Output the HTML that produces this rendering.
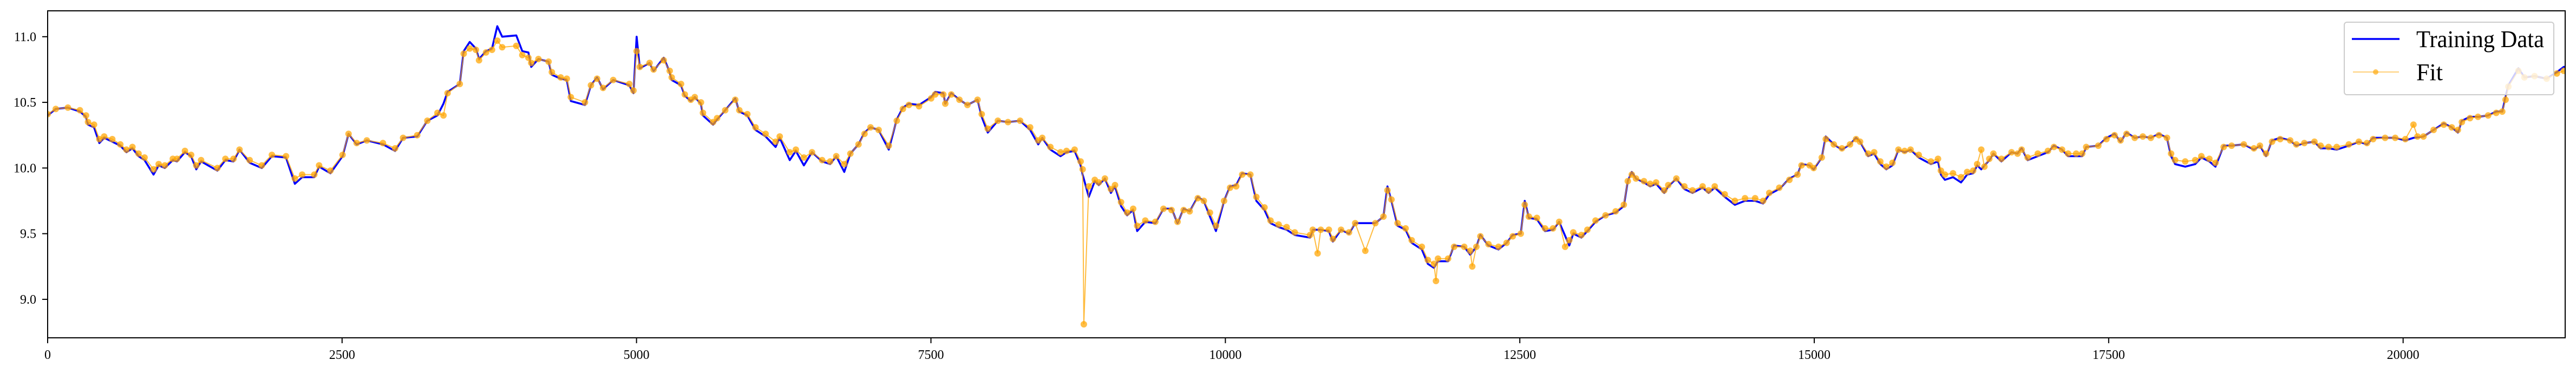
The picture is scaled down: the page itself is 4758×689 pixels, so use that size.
<!DOCTYPE html>
<html><head><meta charset="utf-8"><style>
html,body{margin:0;padding:0;background:#fff;}
svg{display:block;font-family:"Liberation Serif",serif;}
</style></head><body>
<svg id="chart" width="4758" height="689" viewBox="0 0 4758 689" xmlns="http://www.w3.org/2000/svg">
<g id="series"></g>
<g id="axes"></g>
</svg>
<script>
const xTicks=[0,2500,5000,7500,10000,12500,15000,17500,20000];
const yTicks=[9.0,9.5,10.0,10.5,11.0];
const trainX=[0,69,172,274,326,343,394,439,480,549,617,669,720,772,823,899,943,995,1063,1098,1166,1218,1262,1303,1441,1509,1578,1629,1715,1818,1904,2024,2099,2161,2264,2305,2401,2504,2555,2624,2710,2847,2950,3018,3138,3224,3310,3361,3396,3499,3533,3584,3636,3663,3722,3773,3818,3859,3979,4030,4082,4106,4167,4253,4281,4356,4408,4442,4562,4613,4665,4716,4802,4939,4974,5001,5028,5111,5145,5231,5282,5299,5378,5410,5461,5495,5547,5564,5650,5684,5753,5838,5873,5941,6010,6096,6181,6216,6301,6353,6421,6490,6576,6644,6696,6764,6816,6885,6936,6987,7056,7142,7210,7262,7313,7399,7502,7536,7605,7622,7673,7742,7810,7896,7931,7982,8068,8154,8257,8342,8411,8445,8514,8600,8651,8720,8771,8788,8840,8891,8925,8977,9028,9063,9114,9166,9217,9251,9320,9405,9474,9543,9594,9646,9697,9766,9817,9869,9920,9989,10040,10092,10143,10212,10263,10332,10383,10452,10520,10589,10719,10742,10810,10879,10913,10982,11050,11102,11188,11273,11342,11376,11410,11462,11530,11582,11668,11719,11771,11805,11891,11942,12028,12079,12131,12165,12234,12319,12388,12440,12508,12542,12577,12645,12714,12782,12834,12920,12954,13023,13074,13143,13228,13314,13383,13417,13451,13486,13554,13606,13657,13726,13760,13829,13897,13966,14052,14103,14155,14240,14326,14412,14498,14566,14618,14703,14789,14858,14892,14961,14995,15064,15098,15166,15235,15304,15355,15389,15458,15509,15561,15612,15664,15715,15767,15818,15887,15990,16051,16075,16109,16178,16246,16298,16349,16383,16418,16486,16521,16589,16675,16726,16761,16812,16898,16984,17035,17104,17155,17224,17275,17309,17412,17481,17550,17601,17652,17721,17790,17858,17927,17995,18030,18064,18150,18235,18287,18355,18407,18476,18544,18647,18733,18784,18836,18887,18956,19041,19093,19161,19247,19299,19367,19436,19539,19624,19693,19745,19847,19933,20019,20088,20173,20259,20345,20413,20465,20499,20568,20636,20722,20791,20842,20870,20894,20979,21030,21116,21219,21305,21364,21400];
const trainY=[10.40,10.45,10.46,10.43,10.39,10.33,10.31,10.19,10.23,10.20,10.17,10.12,10.15,10.09,10.06,9.95,10.02,10.00,10.06,10.05,10.12,10.09,9.99,10.05,9.98,10.06,10.05,10.14,10.04,10.00,10.09,10.08,9.88,9.93,9.93,10.01,9.96,10.09,10.26,10.18,10.21,10.18,10.13,10.23,10.24,10.36,10.40,10.49,10.58,10.64,10.89,10.96,10.91,10.83,10.89,10.91,11.08,11.00,11.01,10.89,10.88,10.77,10.83,10.81,10.71,10.68,10.67,10.51,10.48,10.63,10.69,10.60,10.67,10.63,10.57,11.00,10.76,10.80,10.74,10.84,10.73,10.67,10.63,10.55,10.51,10.54,10.49,10.40,10.33,10.37,10.44,10.53,10.43,10.40,10.29,10.24,10.16,10.23,10.06,10.13,10.02,10.12,10.05,10.03,10.09,9.97,10.11,10.18,10.27,10.31,10.29,10.14,10.37,10.46,10.49,10.48,10.54,10.58,10.57,10.49,10.57,10.52,10.48,10.52,10.39,10.27,10.36,10.35,10.36,10.29,10.18,10.23,10.14,10.09,10.12,10.13,10.02,9.95,9.78,9.90,9.87,9.92,9.81,9.86,9.71,9.64,9.68,9.52,9.59,9.58,9.69,9.69,9.58,9.69,9.67,9.78,9.75,9.63,9.52,9.75,9.86,9.87,9.96,9.95,9.75,9.68,9.58,9.55,9.53,9.49,9.47,9.53,9.53,9.52,9.44,9.53,9.50,9.58,9.58,9.58,9.63,9.86,9.75,9.56,9.53,9.43,9.38,9.27,9.24,9.29,9.29,9.41,9.40,9.34,9.40,9.49,9.41,9.38,9.43,9.49,9.50,9.75,9.62,9.61,9.52,9.53,9.59,9.41,9.50,9.47,9.52,9.59,9.64,9.66,9.71,9.90,9.97,9.92,9.89,9.86,9.88,9.81,9.86,9.92,9.84,9.81,9.85,9.81,9.85,9.78,9.72,9.75,9.75,9.73,9.80,9.84,9.92,9.95,10.03,10.02,9.99,10.08,10.24,10.18,10.14,10.18,10.23,10.20,10.09,10.11,10.03,9.99,10.02,10.14,10.12,10.14,10.08,10.03,10.05,9.95,9.91,9.93,9.89,9.95,9.96,10.02,9.99,10.06,10.11,10.05,10.12,10.11,10.15,10.06,10.09,10.12,10.17,10.14,10.09,10.09,10.09,10.16,10.17,10.23,10.26,10.20,10.27,10.23,10.24,10.23,10.26,10.23,10.09,10.03,10.01,10.03,10.08,10.05,10.01,10.17,10.17,10.18,10.14,10.17,10.09,10.21,10.23,10.21,10.17,10.19,10.20,10.15,10.15,10.14,10.17,10.20,10.18,10.23,10.23,10.23,10.21,10.23,10.24,10.29,10.34,10.31,10.27,10.36,10.39,10.39,10.40,10.43,10.43,10.54,10.63,10.76,10.69,10.70,10.68,10.73,10.77,10.77];
const fitX=[0,69,172,274,326,343,394,439,480,549,617,669,720,772,823,899,943,995,1063,1098,1166,1218,1262,1303,1441,1509,1578,1629,1715,1818,1904,2024,2099,2161,2264,2305,2401,2504,2555,2624,2710,2847,2950,3018,3138,3224,3310,3361,3396,3499,3533,3584,3636,3663,3722,3773,3818,3859,3979,4030,4082,4106,4167,4253,4281,4356,4408,4442,4562,4613,4665,4716,4802,4939,4974,5001,5028,5111,5145,5231,5282,5299,5378,5410,5461,5495,5547,5564,5650,5684,5753,5838,5873,5941,6010,6096,6181,6216,6301,6353,6421,6490,6576,6644,6696,6764,6816,6885,6936,6987,7056,7142,7210,7262,7313,7399,7502,7536,7605,7622,7673,7742,7810,7896,7931,7982,8068,8154,8257,8342,8411,8445,8514,8600,8651,8720,8771,8788,8798,8840,8891,8925,8977,9028,9063,9114,9166,9217,9251,9320,9405,9474,9543,9594,9646,9697,9766,9817,9869,9920,9989,10040,10092,10143,10212,10263,10332,10383,10452,10520,10589,10719,10742,10783,10810,10879,10913,10982,11050,11102,11188,11273,11342,11376,11410,11462,11530,11582,11668,11719,11771,11788,11805,11891,11942,12028,12079,12096,12131,12165,12234,12319,12388,12440,12508,12542,12577,12645,12714,12782,12834,12885,12920,12954,13023,13074,13143,13228,13314,13383,13417,13451,13486,13554,13606,13657,13726,13760,13829,13897,13966,14052,14103,14155,14240,14326,14412,14498,14566,14618,14703,14789,14858,14892,14961,14995,15064,15098,15166,15235,15304,15355,15389,15458,15509,15561,15612,15664,15715,15767,15818,15887,15990,16051,16075,16109,16178,16246,16298,16349,16383,16418,16445,16486,16521,16589,16675,16726,16761,16812,16898,16984,17035,17104,17155,17224,17275,17309,17412,17481,17550,17601,17652,17721,17790,17858,17927,17995,18030,18064,18150,18235,18287,18355,18407,18476,18544,18647,18733,18784,18836,18887,18956,19041,19093,19161,19247,19299,19367,19436,19539,19624,19693,19745,19847,19933,20019,20088,20122,20173,20259,20345,20413,20465,20499,20568,20636,20722,20791,20842,20870,20894,20979,21030,21116,21219,21305,21364];
const fitY=[10.41,10.45,10.46,10.44,10.40,10.35,10.33,10.22,10.24,10.22,10.18,10.14,10.16,10.11,10.08,9.99,10.03,10.02,10.07,10.07,10.13,10.10,10.02,10.06,10.00,10.07,10.07,10.14,10.06,10.02,10.10,10.09,9.92,9.95,9.95,10.02,9.98,10.10,10.26,10.19,10.21,10.19,10.15,10.23,10.25,10.36,10.42,10.40,10.57,10.64,10.87,10.91,10.90,10.82,10.88,10.90,10.97,10.92,10.93,10.86,10.84,10.80,10.83,10.81,10.73,10.69,10.68,10.54,10.50,10.63,10.68,10.61,10.67,10.64,10.59,10.89,10.77,10.80,10.75,10.82,10.74,10.69,10.64,10.56,10.52,10.54,10.50,10.42,10.35,10.38,10.44,10.52,10.44,10.41,10.31,10.26,10.20,10.24,10.12,10.14,10.08,10.12,10.06,10.05,10.09,10.03,10.11,10.18,10.26,10.31,10.29,10.17,10.36,10.45,10.48,10.47,10.53,10.56,10.56,10.49,10.56,10.52,10.48,10.52,10.41,10.30,10.36,10.35,10.36,10.31,10.21,10.23,10.16,10.12,10.13,10.14,10.05,9.99,8.81,9.86,9.91,9.89,9.92,9.84,9.87,9.74,9.66,9.69,9.56,9.60,9.59,9.69,9.68,9.59,9.68,9.67,9.77,9.75,9.66,9.56,9.75,9.85,9.86,9.95,9.95,9.78,9.70,9.60,9.57,9.55,9.51,9.49,9.53,9.35,9.53,9.53,9.46,9.53,9.51,9.58,9.37,9.58,9.63,9.83,9.76,9.58,9.54,9.45,9.40,9.30,9.27,9.14,9.31,9.31,9.40,9.40,9.37,9.25,9.40,9.48,9.42,9.40,9.43,9.48,9.50,9.72,9.63,9.62,9.54,9.54,9.59,9.40,9.45,9.51,9.49,9.53,9.60,9.64,9.67,9.72,9.90,9.95,9.92,9.90,9.88,9.89,9.83,9.87,9.92,9.86,9.83,9.86,9.83,9.86,9.80,9.75,9.77,9.77,9.75,9.81,9.85,9.91,9.95,10.02,10.02,10.00,10.08,10.22,10.18,10.15,10.18,10.22,10.20,10.11,10.12,10.05,10.01,10.04,10.14,10.13,10.14,10.10,10.05,10.07,9.98,9.95,9.96,9.93,9.97,9.98,10.03,10.14,10.01,10.07,10.11,10.07,10.12,10.11,10.14,10.08,10.11,10.13,10.16,10.14,10.11,10.11,10.11,10.16,10.17,10.22,10.25,10.21,10.26,10.23,10.24,10.23,10.25,10.23,10.11,10.06,10.05,10.06,10.09,10.07,10.04,10.16,10.17,10.18,10.15,10.17,10.11,10.20,10.22,10.21,10.18,10.19,10.20,10.17,10.16,10.16,10.18,10.20,10.19,10.22,10.23,10.23,10.22,10.33,10.24,10.24,10.29,10.33,10.31,10.29,10.35,10.38,10.39,10.40,10.42,10.43,10.52,10.62,10.74,10.69,10.70,10.68,10.72,10.74];

const L=88,R=4738,T=20,B=624;
const X0=0,X1=21376,Y0=8.707,Y1=11.197;
function sx(v){return L+(v-X0)/(X1-X0)*(R-L);}
function sy(v){return B-(v-Y0)/(Y1-Y0)*(B-T);}
const NS="http://www.w3.org/2000/svg";
function mk(tag,attrs,parent){const e=document.createElementNS(NS,tag);for(const k in attrs)e.setAttribute(k,attrs[k]);parent.appendChild(e);return e;}
const svg=document.getElementById('chart');
const series=document.getElementById('series');
const axes=document.getElementById('axes');
const defs=mk('defs',{},svg);
const cp=mk('clipPath',{id:'plotclip'},defs);
mk('rect',{x:L,y:T,width:R-L,height:B-T},cp);
series.setAttribute('clip-path','url(#plotclip)');

const tp=trainX.map((x,i)=>sx(x).toFixed(1)+','+sy(trainY[i]).toFixed(1)).join(' ');
const tl=mk('polyline',{points:tp,fill:'none',stroke:'#0000ff','stroke-width':3.6,'stroke-linejoin':'round'},series);


const fp=fitX.map((x,i)=>sx(x).toFixed(1)+','+sy(fitY[i]).toFixed(1)).join(' ');
const fl=mk('polyline',{points:fp,fill:'none',stroke:'#ffa500','stroke-width':2,'stroke-opacity':0.75},series);


const fg=mk('g',{fill:'#ffa500','fill-opacity':0.72},series);


fitX.forEach((x,i)=>{
  const c=mk('circle',{cx:sx(x).toFixed(1),cy:sy(fitY[i]).toFixed(1),r:6},fg);
  
  
});

const fr=mk('rect',{x:L,y:T,width:R-L,height:B-T,fill:'none',stroke:'#000','stroke-width':2},axes);


xTicks.forEach(t=>{
  const x=sx(t);
  const tk=mk('line',{x1:x,x2:x,y1:B,y2:B+10,stroke:'#000','stroke-width':2},axes);
  
  
  const tx=mk('text',{x:x,y:663,'text-anchor':'middle','font-size':24,fill:'#000'},axes);
  tx.textContent=String(t);
  
  
});
yTicks.forEach(t=>{
  const y=sy(t);
  const tk=mk('line',{x1:L-10,x2:L,y1:y,y2:y,stroke:'#000','stroke-width':2},axes);
  
  
  const tx=mk('text',{x:67,y:y+8,'text-anchor':'end','font-size':24,fill:'#000'},axes);
  tx.textContent=t.toFixed(1);
  
  
});

const lg=mk('g',{},svg);


mk('rect',{x:4330,y:41,width:387,height:134,rx:5,fill:'#fff','fill-opacity':0.8,stroke:'#cccccc','stroke-width':2},lg);
const l1=mk('line',{x1:4344,x2:4432,y1:72,y2:72,stroke:'#0000ff','stroke-width':3.5},lg);


const t1=mk('text',{x:4463,y:87,'font-size':44,fill:'#000',textLength:236,lengthAdjust:'spacingAndGlyphs'},lg);
t1.textContent='Training Data';


const l2=mk('line',{x1:4346,x2:4431,y1:133,y2:133,stroke:'#ffa500','stroke-width':1.5,'stroke-opacity':0.7},lg);


mk('circle',{cx:4388,cy:133,r:5,fill:'#ffa500','fill-opacity':0.65},lg);
const t2=mk('text',{x:4463,y:148,'font-size':44,fill:'#000'},lg);
t2.textContent='Fit';


</script>
</body></html>
